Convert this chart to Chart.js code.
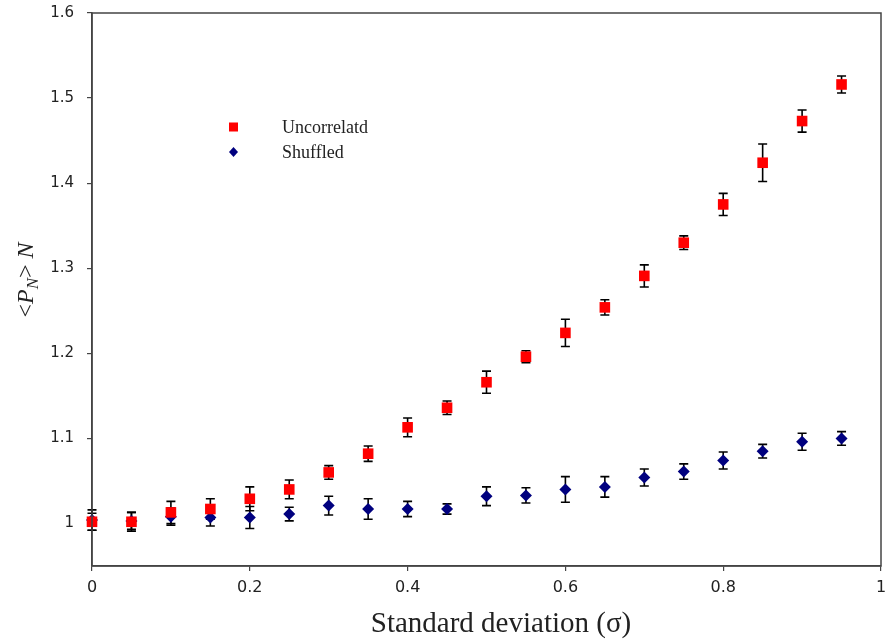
<!DOCTYPE html>
<html>
<head>
<meta charset="utf-8">
<script src="https://cdn.jsdelivr.net/npm/chart.js@4.4.1/dist/chart.umd.min.js"></script>
<style>
  body { margin: 0; background: #fff; }
  #wrap { width: 886px; height: 642px; }
</style>
</head>
<body>
<div id="wrap"><canvas id="sigmaChart" width="886" height="642"></canvas></div>
<script>
// data
const sigma = [0, 0.05, 0.1, 0.15, 0.2, 0.25, 0.3, 0.35, 0.4, 0.45, 0.5, 0.55, 0.6, 0.65, 0.7, 0.75, 0.8, 0.85, 0.9, 0.95];
const uncorrelated = [1.002, 1.002, 1.013, 1.017, 1.029, 1.040, 1.060, 1.082, 1.113, 1.136, 1.166, 1.196, 1.224, 1.254, 1.291, 1.330, 1.375, 1.424, 1.473, 1.516];
const uncorrelatedErr = [0.010, 0.011, 0.013, 0.012, 0.014, 0.011, 0.008, 0.009, 0.011, 0.008, 0.013, 0.007, 0.016, 0.009, 0.013, 0.008, 0.013, 0.022, 0.013, 0.010];
const shuffled = [1.004, 1.003, 1.008, 1.007, 1.007, 1.011, 1.021, 1.017, 1.017, 1.017, 1.032, 1.033, 1.040, 1.043, 1.054, 1.061, 1.074, 1.085, 1.096, 1.100];
const shuffledErr = [0.012, 0.010, 0.010, 0.010, 0.013, 0.008, 0.011, 0.012, 0.009, 0.006, 0.011, 0.009, 0.015, 0.012, 0.010, 0.009, 0.010, 0.008, 0.010, 0.008];
const yTicks = [1.0, 1.1, 1.2, 1.3, 1.4, 1.5, 1.6];
const xTicks = [0, 0.2, 0.4, 0.6, 0.8, 1.0];

const axisColor = '#444';
const textColor = '#222';

function pts(ys) {
  return sigma.map((x, i) => ({ x: x, y: ys[i] }));
}

function fmt(v) {
  return String(Number(v.toFixed(2)));
}

// error bars drawn under the markers
const errorBars = {
  id: 'errorBars',
  beforeDatasetsDraw(chart) {
    const ctx = chart.ctx;
    const yScale = chart.scales.y;
    ctx.save();
    ctx.strokeStyle = '#000';
    ctx.lineWidth = 1.6;
    chart.data.datasets.forEach((ds, di) => {
      const meta = chart.getDatasetMeta(di);
      meta.data.forEach((pt, i) => {
        const v = ds.data[i].y;
        const e = ds.errors[i];
        const top = yScale.getPixelForValue(v + e);
        const bot = yScale.getPixelForValue(v - e);
        ctx.beginPath();
        ctx.moveTo(pt.x, top);
        ctx.lineTo(pt.x, bot);
        ctx.moveTo(pt.x - 4.5, top);
        ctx.lineTo(pt.x + 4.5, top);
        ctx.moveTo(pt.x - 4.5, bot);
        ctx.lineTo(pt.x + 4.5, bot);
        ctx.stroke();
      });
    });
    ctx.restore();
  }
};

// frame, axis titles and legend
const decorations = {
  id: 'decorations',
  afterDraw(chart) {
    const ctx = chart.ctx;
    const a = chart.chartArea;
    ctx.save();

    // box round the plot
    ctx.strokeStyle = axisColor;
    ctx.lineWidth = 1.5;
    ctx.strokeRect(a.left, a.top, a.right - a.left, a.bottom - a.top);

    // x title
    ctx.fillStyle = textColor;
    ctx.font = '29px "Liberation Serif"';
    ctx.textAlign = 'center';
    ctx.textBaseline = 'alphabetic';
    ctx.fillText('Standard deviation (σ)', 501, 632);

    // y title: <P_N> N, rotated
    const big = 'italic 24px "Liberation Serif"';
    const small = 'italic 17px "Liberation Serif"';
    const norm = '24px "Liberation Serif"';
    const parts = [
      { t: '<', f: norm, dy: 0 },
      { t: 'P', f: big, dy: 0 },
      { t: 'N', f: small, dy: 5 },
      { t: '>', f: norm, dy: 0 },
      { t: ' N', f: big, dy: 0 }
    ];
    let total = 0;
    parts.forEach(p => { ctx.font = p.f; p.w = ctx.measureText(p.t).width; total += p.w; });
    ctx.translate(33, 280);
    ctx.rotate(-Math.PI / 2);
    ctx.textAlign = 'left';
    let cx = -total / 2;
    parts.forEach(p => {
      ctx.font = p.f;
      ctx.fillText(p.t, cx, p.dy);
      cx += p.w;
    });
    ctx.setTransform(1, 0, 0, 1, 0, 0);

    // legend
    const rows = [127, 152];
    chart.data.datasets.forEach((ds, i) => {
      const y = rows[i];
      ctx.fillStyle = ds.backgroundColor;
      if (ds.pointStyle === 'rect') {
        ctx.fillRect(229, y - 4.5, 9, 9);
      } else {
        ctx.beginPath();
        ctx.moveTo(233.5, y - 5);
        ctx.lineTo(238, y);
        ctx.lineTo(233.5, y + 5);
        ctx.lineTo(229, y);
        ctx.closePath();
        ctx.fill();
      }
      ctx.fillStyle = textColor;
      ctx.font = '18px "Liberation Serif"';
      ctx.textAlign = 'left';
      ctx.textBaseline = 'middle';
      ctx.fillText(ds.label, 282, y + 1);
    });
    ctx.restore();
  }
};

const chart = new Chart(document.getElementById('sigmaChart'), {
  type: 'scatter',
  data: {
    datasets: [
      {
        label: 'Uncorrelatd',
        data: pts(uncorrelated),
        errors: uncorrelatedErr,
        pointStyle: 'rect',
        pointRadius: 7.5,
        pointHoverRadius: 7.5,
        backgroundColor: '#ff0000',
        borderColor: '#ff0000',
        borderWidth: 0,
        clip: false
      },
      {
        label: 'Shuffled',
        data: pts(shuffled),
        errors: shuffledErr,
        pointStyle: 'rectRot',
        pointRadius: 6,
        pointHoverRadius: 6,
        backgroundColor: '#00007f',
        borderColor: '#00007f',
        borderWidth: 0,
        clip: false
      }
    ]
  },
  options: {
    responsive: false,
    animation: false,
    devicePixelRatio: 1,
    layout: { autoPadding: false, padding: { top: 13, right: 5, left: 0, bottom: 0 } },
    plugins: {
      legend: { display: false },
      tooltip: { enabled: false }
    },
    scales: {
      x: {
        type: 'linear',
        min: 0,
        max: 1,
        afterBuildTicks: scale => { scale.ticks = xTicks.map(v => ({ value: v })); },
        afterFit: scale => {
          scale.height = 76;
          scale.paddingLeft = 0;
          scale.paddingRight = 0;
        },
        grid: { display: true, drawOnChartArea: false, drawTicks: true, tickLength: 5, color: axisColor, lineWidth: 1.2 },
        border: { display: true, color: axisColor, width: 1.5 },
        ticks: {
          padding: 7,
          maxRotation: 0,
          color: textColor,
          font: { family: 'DejaVu Sans', size: 16 },
          callback: v => fmt(v)
        }
      },
      y: {
        type: 'linear',
        min: 0.95,
        max: 1.6,
        afterBuildTicks: scale => { scale.ticks = yTicks.map(v => ({ value: v })); },
        afterFit: scale => {
          scale.width = 92;
          scale.paddingTop = 0;
          scale.paddingBottom = 0;
        },
        grid: { display: true, drawOnChartArea: false, drawTicks: true, tickLength: 5, color: axisColor, lineWidth: 1.2 },
        border: { display: true, color: axisColor, width: 1.5 },
        ticks: {
          padding: 13,
          color: textColor,
          font: { family: 'DejaVu Sans', size: 15 },
          callback: v => fmt(v)
        }
      }
    }
  },
  plugins: [errorBars, decorations]
});
</script>
</body>
</html>
